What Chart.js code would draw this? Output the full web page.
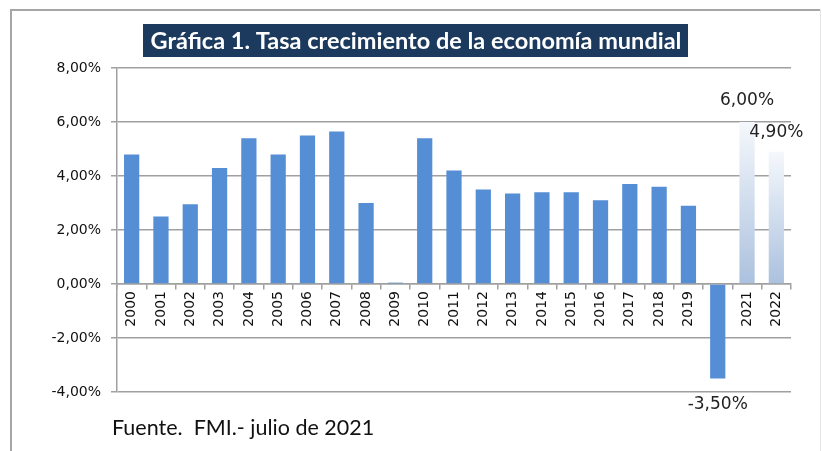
<!DOCTYPE html>
<html>
<head>
<meta charset="utf-8">
<script src="https://cdn.jsdelivr.net/npm/chart.js@4"></script>
<style>
    html, body { margin: 0; padding: 0; background: #fff; }
    #grafico { display: block; }
</style>
</head>
<body>
<canvas id="grafico" width="822" height="451"></canvas>
<script>
// datos de la grafica
const anios = ['2000','2001','2002','2003','2004','2005','2006','2007','2008','2009','2010',
    '2011','2012','2013','2014','2015','2016','2017','2018','2019','2020','2021','2022'];
const crecimiento = [4.8, 2.5, 2.95, 4.3, 5.4, 4.8, 5.5, 5.65, 3.0, 0.05, 5.4,
    4.2, 3.5, 3.35, 3.4, 3.4, 3.1, 3.7, 3.6, 2.9, -3.5, 6.0, 4.9];
const proyectados = ['2021', '2022'];
const etiquetas = { '2020': '-3,50%', '2021': '6,00%', '2022': '4,90%' };
const titulo = 'Gráfica 1. Tasa crecimiento de la economía mundial';
const fuente = 'Fuente.  FMI.- julio de 2021';

const formato = v => v.toFixed(2).replace('.', ',') + '%';

const color_barra = (ctx) => {
    const anio = anios[ctx.dataIndex];
    if (!proyectados.includes(anio)) return '#558ed5';
    const chart = ctx.chart;
    const y = chart.scales && chart.scales.y;
    if (!y || !chart.chartArea) return '#c8d6ea';
    const top = y.getPixelForValue(crecimiento[ctx.dataIndex]);
    const base = y.getPixelForValue(0);
    const grad = chart.ctx.createLinearGradient(0, top, 0, base);
    grad.addColorStop(0, '#f5f8fc');
    grad.addColorStop(1, '#abc1de');
    return grad;
};

// marco, titulo, fuente y etiquetas
const decoracion = {
    id: 'decoracion',
    beforeDraw(chart) {
        const c = chart.ctx;
        c.save();
        c.fillStyle = '#fff';
        c.fillRect(0, 0, chart.width, chart.height);
        c.strokeStyle = '#a6a6a6';
        c.lineWidth = 2;
        c.beginPath();
        c.moveTo(11, 451);
        c.lineTo(11, 10);
        c.lineTo(820, 10);
        c.stroke();
        c.strokeStyle = '#e4e4e4';
        c.lineWidth = 1;
        c.beginPath();
        c.moveTo(820.5, 10);
        c.lineTo(820.5, 451);
        c.stroke();
        c.restore();
    },
    afterDraw(chart) {
        const c = chart.ctx;
        const x = chart.scales.x;
        const y = chart.scales.y;
        c.save();
        // titulo
        c.fillStyle = '#1b3a5e';
        c.fillRect(143, 24, 545, 33);
        c.fillStyle = '#fff';
        c.font = 'bold 23.5px Lato';
        c.textAlign = 'center';
        c.textBaseline = 'middle';
        c.fillText(titulo, 416, 41, 534);
        // fuente
        c.fillStyle = '#111';
        c.font = '21.5px Lato';
        c.textAlign = 'left';
        c.fillText(fuente, 112, 428);
        // etiquetas de valores
        c.font = '17px "DejaVu Sans"';
        c.textAlign = 'center';
        c.fillStyle = '#222';
        anios.forEach((anio, i) => {
            if (!etiquetas[anio]) return;
            const v = crecimiento[i];
            const px = x.getPixelForValue(i);
            const py = y.getPixelForValue(v);
            if (anio === '2022') {
                c.fillText(etiquetas[anio], px, py - 19);
            } else if (v < 0) {
                c.fillText(etiquetas[anio], px, py + 26);
            } else {
                c.fillText(etiquetas[anio], px, py - 21);
            }
        });
        c.restore();
    }
};

new Chart(document.getElementById('grafico'), {
    type: 'bar',
    data: {
        labels: anios,
        datasets: [{
            data: crecimiento,
            backgroundColor: color_barra,
            barPercentage: 0.52,
            categoryPercentage: 1
        }]
    },
    options: {
        responsive: false,
        animation: false,
        layout: { padding: { left: 11, right: 31, top: 68, bottom: 59 } },
        plugins: {
            legend: { display: false },
            tooltip: { enabled: false }
        },
        scales: {
            x: {
                position: { y: 0 },
                offset: true,
                grid: {
                    offset: true,
                    drawOnChartArea: false,
                    tickLength: 5,
                    color: '#a0a0a0',
                    lineWidth: 1.5
                },
                border: { color: '#a0a0a0', width: 1.5 },
                ticks: {
                    minRotation: 90,
                    maxRotation: 90,
                    autoSkip: false,
                    padding: 2,
                    color: '#111',
                    font: { family: '"DejaVu Sans"', size: 14 }
                }
            },
            y: {
                min: -4,
                max: 8,
                afterFit: scale => { scale.width = 106; },
                grid: { color: '#a0a0a0', lineWidth: 1.5, tickLength: 6 },
                border: { color: '#a0a0a0', width: 1.5 },
                ticks: {
                    stepSize: 2,
                    padding: 10,
                    color: '#111',
                    font: { family: '"DejaVu Sans"', size: 14 },
                    callback: v => formato(v)
                }
            }
        }
    },
    plugins: [decoracion]
});
</script>
</body>
</html>
